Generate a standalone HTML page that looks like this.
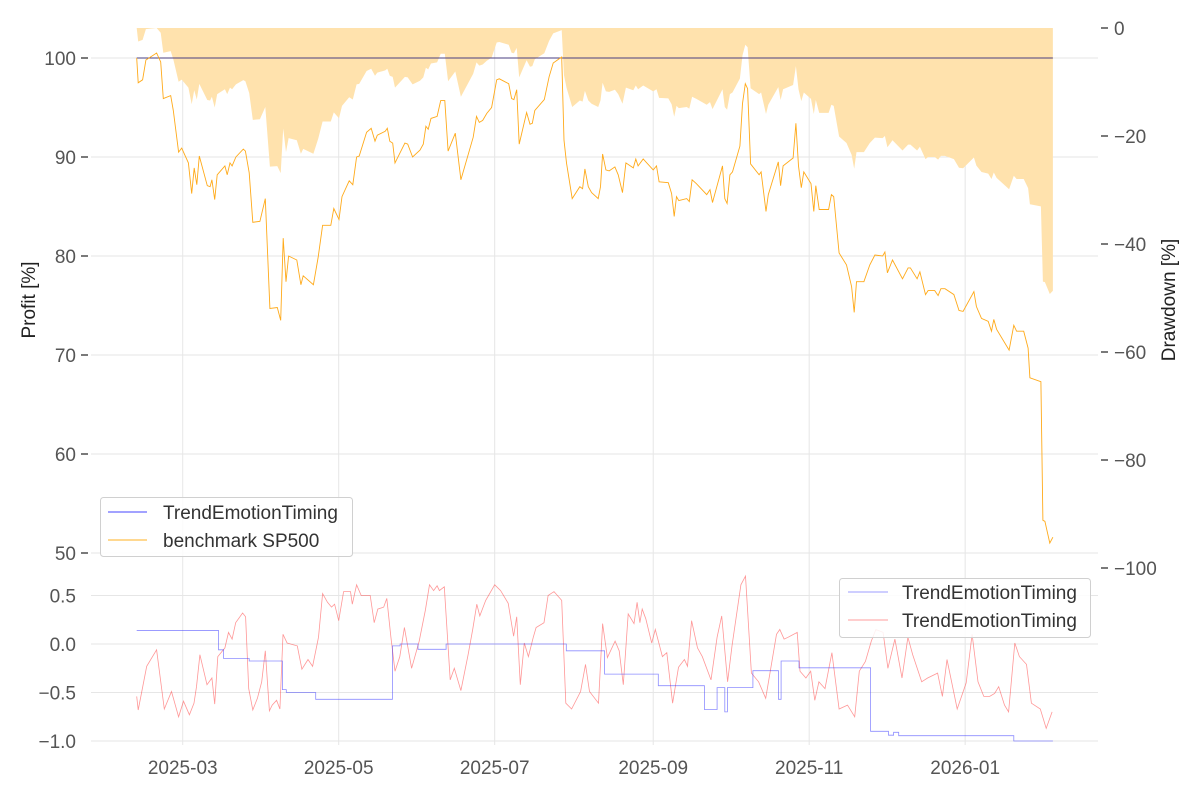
<!DOCTYPE html>
<html><head><meta charset="utf-8">
<style>
html,body{margin:0;padding:0;background:#fff;}
svg{display:block;font-family:"Liberation Sans","DejaVu Sans",sans-serif;}
</style></head>
<body>
<svg id="chart" width="1200" height="800" viewBox="0 0 1200 800" xmlns="http://www.w3.org/2000/svg">
<g id="grid"></g>
<g id="marks"></g>
<g id="axes"></g>
<text x="0" y="0" transform="translate(35,300) rotate(-90)" text-anchor="middle" font-size="19" fill="#222">Profit [%]</text>
<text x="0" y="0" transform="translate(1175,300) rotate(-90)" text-anchor="middle" font-size="19" fill="#222">Drawdown [%]</text>
<g>
<rect x="100.5" y="497.5" width="252" height="59" rx="3" fill="#fff" fill-opacity="0.85" stroke="#d0d0d0"/>
<g><line x1="108" x2="147" y1="512" y2="512" stroke="#4444ff" stroke-width="1"/><text x="163" y="519" font-size="19" fill="#333">TrendEmotionTiming</text></g>
<g><line x1="108" x2="147" y1="540" y2="540" stroke="#ffb020" stroke-width="1"/><text x="163" y="547" font-size="19" fill="#333">benchmark SP500</text></g>
</g>
<g>
<rect x="839.5" y="578.5" width="251" height="59" rx="3" fill="#fff" fill-opacity="0.85" stroke="#d0d0d0"/>
<g><line x1="848" x2="888" y1="592" y2="592" stroke="#4444ff" stroke-opacity="0.35" stroke-width="1.5"/><text x="902" y="599" font-size="19" fill="#333">TrendEmotionTiming</text></g>
<g><line x1="848" x2="888" y1="620" y2="620" stroke="#ff4444" stroke-opacity="0.35" stroke-width="1.5"/><text x="902" y="627" font-size="19" fill="#333">TrendEmotionTiming</text></g>
</g>
</svg>
<script>
// ---- data (days since 2025-02-11) ----
const benchDays = [0,0.6,2.3,3.6,7.8,9.4,10.4,13.3,14.3,16.4,17.6,20.2,21.5,22.5,23.5,24.5,27.6,28.7,29.4,30.5,31.5,34.5,35.4,36.5,37.3,38.8,41.7,42.5,44.0,45.4,48.2,50.3,52.1,55.0,56.3,57.3,58.4,59.4,62.6,64.2,65.1,69.1,71.0,72.7,75.9,77.1,79.1,80.3,83.1,84.5,86.0,87.0,89.9,91.7,93.2,94.1,97.2,98.0,99.0,100.1,101.0,104.9,106.0,107.9,110.8,112.1,113.1,114.0,115.1,117.5,118.9,120.5,121.8,124.6,126.8,131.6,132.9,134.0,135.3,136.9,138.8,140.8,141.8,145.5,146.6,147.5,148.6,149.6,152.5,153.8,154.7,155.7,159.4,161.3,162.9,166.2,167.1,168.1,170.3,173.3,174.4,175.3,176.6,177.9,180.5,181.4,182.2,183.5,184.8,187.0,188.3,190.0,191.3,194.2,195.2,196.1,198.1,202.0,203.3,204.3,207.9,209.2,210.2,211.1,212.0,215.1,216.1,217.2,218.9,222.9,224.2,225.2,229.1,230.0,230.9,232.0,233.0,235.9,236.9,238.0,238.9,240.1,243.4,244.2,246.1,247.0,250.9,251.8,252.8,256.7,257.8,258.8,259.9,260.9,263.7,264.8,265.6,266.9,270.6,271.7,272.6,274.7,277.6,279.6,280.6,281.5,284.4,286.7,288.7,291.7,292.6,293.6,295.6,299.5,301.7,302.6,305.2,306.3,308.5,309.5,312.1,313.4,314.5,316.1,319.6,321.6,323.2,327.4,328.4,330.4,333.0,334.3,335.2,336.3,341.2,343.0,344.1,346.9,348.6,349.3,353.6,354.4,355.2,357.1,358.3];
const benchVals = [100.0,97.5,97.8,99.8,100.5,99.6,95.9,96.2,94.7,90.5,90.9,89.4,86.3,88.9,87.2,90.1,87.1,87.0,87.7,85.7,88.2,89.1,88.2,89.4,89.1,90.0,90.8,90.6,88.4,83.4,83.5,85.8,74.7,74.8,73.5,81.8,77.4,80.0,79.6,77.1,78.0,77.1,79.9,83.1,83.1,84.8,83.7,86.0,87.6,87.2,90.0,90.1,92.5,92.9,91.6,92.2,92.6,92.9,91.6,91.4,89.4,91.4,91.3,90.0,90.7,91.3,93.1,92.8,93.9,94.1,95.7,95.7,90.6,92.4,87.7,92.0,94.1,93.5,93.7,94.4,95.0,97.8,97.9,97.4,95.9,95.8,96.8,91.3,94.5,93.3,93.4,94.7,95.8,98.1,99.5,100.1,91.7,89.4,85.8,87.0,86.8,88.8,87.0,86.4,85.8,87.0,90.3,88.7,88.6,89.0,88.2,86.4,89.4,88.9,89.8,89.1,89.8,88.7,89.1,87.5,87.4,86.3,84.0,86.0,85.6,85.8,85.5,87.7,87.3,86.2,86.7,85.4,89.1,85.8,85.3,88.2,88.5,91.1,95.4,97.4,96.9,89.3,88.2,88.5,84.5,86.2,89.5,87.1,89.1,89.9,93.4,89.1,86.9,88.5,87.3,84.5,87.1,84.7,84.7,86.2,86.0,80.3,79.1,76.9,74.3,77.4,77.4,79.1,80.1,80.0,80.4,78.3,79.6,77.7,78.8,78.8,77.7,78.4,76.1,76.5,76.5,76.0,76.7,76.7,76.1,74.5,74.4,76.4,74.9,73.7,73.4,72.4,73.6,72.6,70.5,73.0,72.4,72.4,70.7,67.7,67.3,53.3,53.2,51.0,51.6];
const stratDays = [0,358.3];
const stratVals = [100,100];
const posDays = [0,32,34,44,57,58.5,70,100,103,110,121,168,183,204,222,227,230,231,241,251,252,259,287,294,296,298,343,358.3];
const posVals = [0.14,-0.06,-0.15,-0.175,-0.47,-0.50,-0.57,-0.02,0.0,-0.055,0.0,-0.07,-0.31,-0.43,-0.675,-0.45,-0.70,-0.45,-0.275,-0.57,-0.175,-0.245,-0.90,-0.94,-0.91,-0.945,-1.0,-1.0];
const sigDays = [0,0.6,3.9,7.8,10.8,13.6,16.4,18.3,20.6,22.4,23.4,24.7,27.5,29.4,30.5,31.7,34.5,35.9,37.3,38.7,41.4,42.6,43.8,45.4,47.2,48.9,50.3,51.9,53.0,54.7,56.0,57.2,58.8,62.8,64.6,67.0,68.8,71.1,72.7,74.6,76.2,77.4,79.0,80.9,83.6,84.3,86.0,87.8,91.3,92.9,94.3,96.6,97.8,99.4,101.0,102.9,104.7,107.5,110.5,112.9,114.5,116.1,117.5,118.4,120.3,122.6,124.2,126.8,129.6,131.4,133.0,134.2,136.5,140.0,142.3,145.3,147.4,148.6,150.0,151.6,153.2,155.1,156.2,159.3,160.9,163.2,166.2,167.8,170.1,173.6,175.5,177.1,180.6,182.2,184.1,187.1,188.7,190.3,192.2,194.5,195.7,196.8,197.7,199.1,201.4,202.8,205.6,207.3,209.6,211.9,214.2,215.4,217.0,219.3,221.2,224.6,227.0,228.8,231.1,232.8,236.3,238.1,240.4,243.2,246.0,250.2,251.5,253.2,254.8,258.3,259.4,261.7,263.6,265.2,266.8,269.2,271.9,274.7,278.0,280.8,282.6,285.0,287.3,289.1,291.9,293.8,296.5,299.3,301.6,303.5,307.0,309.3,313.2,315.1,316.9,320.9,324.4,326.7,329.0,331.3,333.6,335.5,337.1,339.4,341.0,343.4,345.2,348.0,349.9,353.4,355.7,358.0];
const sigVals = [-0.54,-0.68,-0.23,-0.06,-0.67,-0.49,-0.75,-0.59,-0.73,-0.61,-0.44,-0.11,-0.42,-0.35,-0.62,-0.13,-0.04,0.12,0.05,0.22,0.32,0.28,-0.46,-0.68,-0.56,-0.39,-0.07,-0.69,-0.63,-0.58,-0.67,0.10,0.01,-0.02,-0.26,-0.16,-0.23,0.07,0.52,0.43,0.38,0.41,0.24,0.54,0.54,0.41,0.61,0.50,0.50,0.22,0.36,0.38,0.47,0.07,-0.28,-0.13,0.17,-0.25,0.03,0.35,0.61,0.55,0.60,0.55,0.59,-0.37,-0.25,-0.48,-0.11,0.15,0.41,0.29,0.45,0.61,0.55,0.42,0.08,0.28,-0.42,0.01,-0.13,0.07,0.17,0.22,0.50,0.54,0.45,-0.61,-0.67,-0.49,-0.21,-0.49,-0.61,0.21,-0.14,0.03,-0.07,-0.42,0.31,0.21,0.43,0.22,0.36,0.26,0.01,0.15,-0.13,-0.09,-0.61,-0.24,-0.16,-0.23,0.24,-0.04,-0.13,-0.37,0.07,0.29,-0.39,-0.02,0.61,0.70,-0.30,-0.39,-0.56,0.10,0.15,0.05,0.07,0.12,-0.28,-0.35,-0.28,-0.58,-0.39,-0.46,-0.09,-0.67,-0.63,-0.75,-0.28,-0.18,0.03,0.15,0.12,-0.25,0.05,-0.35,0.07,-0.11,-0.39,-0.35,-0.30,-0.54,-0.16,-0.67,-0.40,0.10,-0.39,-0.54,-0.54,-0.51,-0.44,-0.63,-0.70,0.01,-0.13,-0.21,-0.61,-0.67,-0.87,-0.70];
const xTickLabels = ["2025-03","2025-05","2025-07","2025-09","2025-11","2026-01"];
const xTickDays = [18,79,140,202,263,324];
const profitTicks = [100,90,80,70,60,50];
const ddTicks = [0,-20,-40,-60,-80,-100];
const sigTicks = [0.5,0,-0.5,-1];

// ---- scales ----
const X0=136.7, PXD=2.557;
const xs = d => X0 + d*PXD;
const yP = v => 58 + (100-v)*9.9;
const yD = v => 28 - v*5.4;
const yS = v => 644 - v*97;
const NS='http://www.w3.org/2000/svg';
function mk(tag, parent, attrs){const e=document.createElementNS(NS,tag);for(const k in attrs)e.setAttribute(k,attrs[k]);parent.appendChild(e);return e;}
const grid=document.getElementById('grid'), marks=document.getElementById('marks'), axes=document.getElementById('axes');

// grids
profitTicks.forEach(v=>{const l=mk('line',grid,{x1:91,x2:1098,y1:yP(v),y2:yP(v),stroke:'#e6e6e6','stroke-width':1});

});
sigTicks.forEach(v=>{const l=mk('line',grid,{x1:91,x2:1098,y1:yS(v),y2:yS(v),stroke:'#e6e6e6','stroke-width':1});

});
xTickDays.forEach(d=>{const l=mk('line',grid,{x1:xs(d),x2:xs(d),y1:28,y2:745,stroke:'#e6e6e6','stroke-width':1});

});

// drawdown from benchmark
let peak=-Infinity; const dd=benchVals.map(v=>{peak=Math.max(peak,v);return (v/peak-1)*100;});
let dpath='M'+xs(benchDays[0])+','+yD(0);
benchDays.forEach((d,i)=>{dpath+=' L'+xs(d).toFixed(1)+','+yD(dd[i]).toFixed(1);});
dpath+=' L'+xs(benchDays[benchDays.length-1])+','+yD(0)+' Z';
const area=mk('path',marks,{d:dpath,fill:'#ffe2ad',stroke:'none'});



// strategy line
const sl=mk('polyline',marks,{points:stratDays.map((d,i)=>xs(d)+','+yP(stratVals[i])).join(' '),fill:'none',stroke:'#4a3f80','stroke-width':1});



// benchmark line
const bl=mk('polyline',marks,{points:benchDays.map((d,i)=>xs(d).toFixed(1)+','+yP(benchVals[i]).toFixed(1)).join(' '),fill:'none',stroke:'#ffaa1a','stroke-width':0.9});



// signal red
const rl=mk('polyline',marks,{points:sigDays.map((d,i)=>xs(d).toFixed(1)+','+yS(sigVals[i]).toFixed(1)).join(' '),fill:'none',stroke:'#ff3030','stroke-opacity':0.5,'stroke-width':0.8});



// position step blue
let pp='';
posDays.forEach((d,i)=>{ if(i===0) pp='M'+xs(d)+','+yS(posVals[0]); else pp+=' L'+xs(d).toFixed(1)+','+yS(posVals[i-1]).toFixed(1)+' L'+xs(d).toFixed(1)+','+yS(posVals[i]).toFixed(1);});
const pl=mk('path',marks,{d:pp,fill:'none',stroke:'#3030ff','stroke-opacity':0.55,'stroke-width':0.8});



// axes ticks & labels
const tf={'font-size':19,fill:'#555'};
profitTicks.forEach(v=>{
  const t=mk('line',axes,{x1:81,x2:88,y1:yP(v),y2:yP(v),stroke:'#222','stroke-width':1.2});
  
  
  const s=mk('text',axes,Object.assign({x:76,y:yP(v)+7,'text-anchor':'end'},tf)); s.textContent=v;
  
  
});
ddTicks.forEach(v=>{
  const t=mk('line',axes,{x1:1101,x2:1108,y1:yD(v),y2:yD(v),stroke:'#222','stroke-width':1.2});
  
  
  const s=mk('text',axes,Object.assign({x:1114,y:yD(v)+7,'text-anchor':'start'},tf)); s.textContent=(v<0?'\u2212'+(-v):v);
  
  
});
sigTicks.forEach(v=>{
  const s=mk('text',axes,Object.assign({x:76,y:yS(v)+7,'text-anchor':'end'},tf)); s.textContent=(v<0?'\u2212'+(-v).toFixed(1):v.toFixed(1));
  
  
});
xTickDays.forEach((d,i)=>{
  const s=mk('text',axes,Object.assign({x:xs(d),y:774,'text-anchor':'middle'},tf)); s.textContent=xTickLabels[i];
  
  
});
</script>
</body></html>
